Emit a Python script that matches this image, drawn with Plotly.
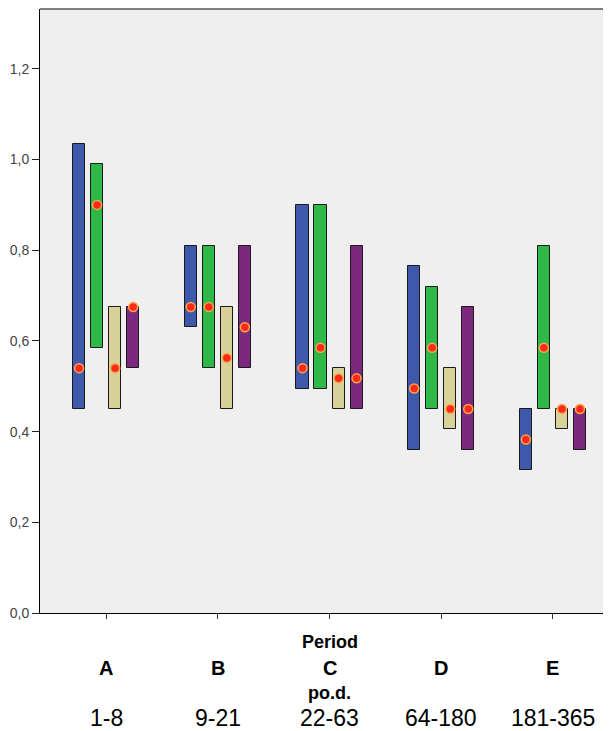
import plotly.graph_objects as go

categories = ["A", "B", "C", "D", "E"]
ranges = ["1-8", "9-21", "22-63", "64-180", "181-365"]
axis_title_top = "Period"
axis_title_bottom = "po.d."

blue_low = [0.45, 0.63, 0.495, 0.36, 0.315]
blue_high = [1.035, 0.81, 0.90, 0.765, 0.45]
blue_med = [0.54, 0.675, 0.54, 0.495, 0.3825]

green_low = [0.585, 0.54, 0.495, 0.45, 0.45]
green_high = [0.99, 0.81, 0.90, 0.72, 0.81]
green_med = [0.90, 0.675, 0.585, 0.585, 0.585]

tan_low = [0.45, 0.45, 0.45, 0.405, 0.405]
tan_high = [0.675, 0.675, 0.54, 0.54, 0.45]
tan_med = [0.54, 0.5625, 0.5175, 0.45, 0.45]

purple_low = [0.54, 0.54, 0.45, 0.36, 0.36]
purple_high = [0.675, 0.81, 0.81, 0.675, 0.45]
purple_med = [0.675, 0.63, 0.5175, 0.45, 0.45]

series = [
    ("Series 1", blue_low, blue_high, blue_med, "#3E58AC"),
    ("Series 2", green_low, green_high, green_med, "#2EB848"),
    ("Series 3", tan_low, tan_high, tan_med, "#D6D29A"),
    ("Series 4", purple_low, purple_high, purple_med, "#7C287D"),
]

offsets = [-0.242, -0.081, 0.081, 0.242]
bar_w = 0.108
idx = list(range(len(categories)))

fig = go.Figure()
for (name, lo, hi, md, col), off in zip(series, offsets):
    xs = [i + off for i in idx]
    fig.add_trace(go.Bar(
        x=xs, y=[h - l for h, l in zip(hi, lo)], base=lo, width=bar_w,
        marker=dict(color=col, line=dict(color="#1a1a1a", width=1)),
        name=name, showlegend=False, hoverinfo="skip",
    ))
for (name, lo, hi, md, col), off in zip(series, offsets):
    xs = [i + off for i in idx]
    fig.add_trace(go.Scatter(
        x=xs, y=md, mode="markers", name=name + " median", showlegend=False,
        marker=dict(size=9, color="#FF2A1A", line=dict(color="#F6A84A", width=1.5)),
    ))

# page body has an 8px margin; figure is sized so the plot lands where the reference has it
fig.update_layout(
    width=603, height=723,
    margin=dict(l=32, r=0, t=1, b=118),
    paper_bgcolor="white", plot_bgcolor="#EFEFEF",
    separators=",.",
    font=dict(family="Liberation Sans, Arial, sans-serif", color="#000000"),
    bargap=0,
)
fig.update_xaxes(
    range=[-0.592, 4.52], tickvals=idx, showticklabels=False, automargin=False,
    showgrid=False, zeroline=False,
    showline=True, linecolor="#000000", linewidth=1, mirror=False,
    ticks="outside", ticklen=5, tickcolor="#333333",
)
fig.update_yaxes(
    range=[0, 1.332], tickvals=[0, 0.2, 0.4, 0.6, 0.8, 1.0, 1.2], tickformat=".1f",
    automargin=False,
    showgrid=False, zeroline=False,
    showline=True, linecolor="#000000", linewidth=1, mirror=False,
    ticks="outside", ticklen=7, tickcolor="#222222",
    tickfont=dict(size=14, color="#444444"),
)
fig.add_shape(type="line", xref="paper", yref="paper", x0=0, x1=1, y0=1, y1=1,
              line=dict(color="#555555", width=1.5))

for i, (c, r) in zip(idx, zip(categories, ranges)):
    fig.add_annotation(x=i, xref="x", y=0, yref="paper", yanchor="middle",
                       yshift=-55, text="<b>%s</b>" % c, showarrow=False,
                       font=dict(size=20, color="#000000"))
    fig.add_annotation(x=i, xref="x", y=0, yref="paper", yanchor="middle",
                       yshift=-105, text=r, showarrow=False,
                       font=dict(size=23, color="#000000"))
fig.add_annotation(x=2, xref="x", y=0, yref="paper", yanchor="middle",
                   yshift=-29, text="<b>%s</b>" % axis_title_top, showarrow=False,
                   font=dict(size=18, color="#000000"))
fig.add_annotation(x=2, xref="x", y=0, yref="paper", yanchor="middle",
                   yshift=-80, text="<b>%s</b>" % axis_title_bottom, showarrow=False,
                   font=dict(size=18, color="#000000"))

fig.write_html("out.html")
